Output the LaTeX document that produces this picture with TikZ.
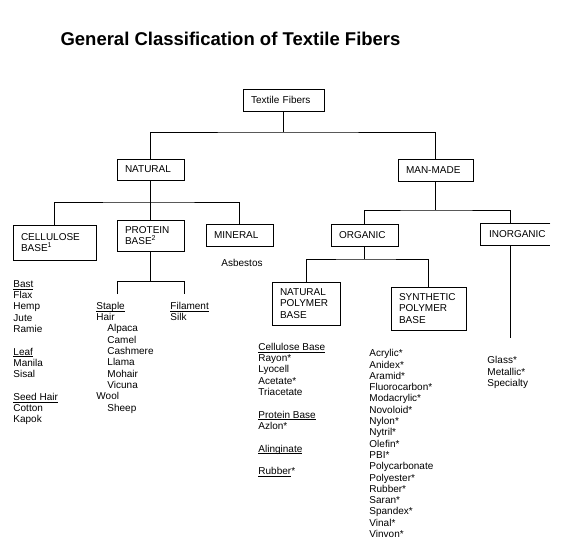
\documentclass[tikz,border=0pt]{standalone}
\usepackage{fontspec}
\setmainfont{Liberation Sans}
\usetikzlibrary{calc}
\newcommand{\fibhead}[1]{\underline{\smash{#1}\vphantom{A}}}

\begin{document}
\begin{tikzpicture}[x=1pt, y=-1pt, line width=0.9pt,
    catbox/.style={draw, align=left, font=\fontsize{10}{11.3}\selectfont,
                   inner xsep=8pt, inner ysep=0pt},
    fiberlist/.style={anchor=north west, align=left, inner sep=0pt,
                      font=\fontsize{10}{11.3}\selectfont},
  ]
  \fill[white] (0,0) rectangle (576,550);
  \useasboundingbox (0,0) rectangle (576,550);

  \node[font=\fontsize{18.5}{22}\selectfont\bfseries] (title) at (230.5,38.5)
        {General Classification of Textile Fibers};

  % category boxes
  \node[catbox, text width=65pt, minimum height=22pt] (fibers) at (283.5,100) {Textile Fibers};
  \node[catbox, text width=51pt, minimum height=21pt] (natural) at (150.5,169.5) {NATURAL};
  \node[catbox, text width=59pt, minimum height=22pt] (manmade) at (435.5,170) {MAN-MADE};
  \node[catbox, text width=67pt, minimum height=35pt] (cellulose) at (54.5,242.5)
        {CELLULOSE\\BASE\textsuperscript{1}};
  \node[catbox, text width=51pt, minimum height=31pt] (protein) at (150.5,235.5)
        {PROTEIN\\BASE\textsuperscript{2}};
  \node[catbox, text width=51pt, minimum height=22pt] (mineral) at (239.5,235) {MINERAL};
  \node[catbox, text width=51pt, minimum height=22pt] (organic) at (364.5,235) {ORGANIC};
  \node[catbox, draw=none, text width=53pt, minimum height=21pt] (inorganic) at (515.5,234.5)
        {INORGANIC};
  \draw (inorganic.north east) -- (inorganic.north west) -- (inorganic.south west)
        -- (inorganic.south east);
  \node[catbox, text width=52pt, minimum height=43pt] (natpoly) at (306,303.5)
        {NATURAL\\POLYMER\\BASE};
  \node[catbox, text width=59pt, minimum height=43pt] (synpoly) at (428.5,308.5)
        {SYNTHETIC\\POLYMER\\BASE};

  % bus levels and free ends
  \coordinate (topbus) at (0,132);
  \coordinate (natbus) at (0,202);
  \coordinate (manbus) at (0,210);
  \coordinate (orgbus) at (0,259);
  \coordinate (protbus) at (0,281);
  \coordinate (stapletop) at (117,294);
  \coordinate (filtop) at (184,294);
  \coordinate (inorgend) at (510,338);

  % connectors
  \draw (fibers.south) -- (fibers.south |- topbus);
  \draw (natural.north) |- (fibers.south |- topbus) -| (manmade.north);
  \draw (cellulose.north) |- (natural.south |- natbus) -| (mineral.north);
  \draw (natural.south) -- (protein.north);
  \draw (manmade.south) -- (manmade.south |- manbus);
  \draw (organic.north) |- (manmade.south |- manbus) -| ([xshift=-5.5pt]inorganic.north);
  \draw (organic.south) -- (organic.south |- orgbus);
  \draw (natpoly.north) |- (organic.south |- orgbus) -| (synpoly.north);
  \draw ([xshift=-5.5pt]inorganic.south) -- (inorgend);
  \draw (protein.south) -- (protein.south |- protbus);
  \draw (stapletop) |- (filtop |- protbus) -- (filtop);

  % fiber lists
  \node[fiberlist] (celllist) at (13,280)
        {\fibhead{Bast}\\Flax\\Hemp\\Jute\\Ramie\\[11.3pt]
         \fibhead{Leaf}\\Manila\\Sisal\\[11.3pt]
         \fibhead{Seed Hair}\\Cotton\\Kapok};
  \node[fiberlist] (staplelist) at (96,302)
        {\fibhead{Staple}\\Hair\\
         \hspace*{11pt}Alpaca\\\hspace*{11pt}Camel\\\hspace*{11pt}Cashmere\\
         \hspace*{11pt}Llama\\\hspace*{11pt}Mohair\\\hspace*{11pt}Vicuna\\
         Wool\\\hspace*{11pt}Sheep};
  \node[fiberlist] (filamentlist) at (170,302) {\fibhead{Filament}\\Silk};
  \node[font=\fontsize{10}{11.3}\selectfont] (asbestos) at (242,263) {Asbestos};
  \node[fiberlist] (natpolylist) at (258,343)
        {\fibhead{Cellulose Base}\\Rayon*\\Lyocell\\Acetate*\\Triacetate\\[11.3pt]
         \fibhead{Protein Base}\\Azlon*\\[11.3pt]
         \fibhead{Alinginate}\\[11.3pt]
         \fibhead{Rubber}*};
  \node[fiberlist] (synpolylist) at (369,349)
        {Acrylic*\\Anidex*\\Aramid*\\Fluorocarbon*\\Modacrylic*\\Novoloid*\\
         Nylon*\\Nytril*\\Olefin*\\PBI*\\Polycarbonate\\Polyester*\\Rubber*\\
         Saran*\\Spandex*\\Vinal*\\Vinvon*};
  \node[fiberlist] (inorglist) at (487,356) {Glass*\\Metallic*\\Specialty};
\end{tikzpicture}
\end{document}
